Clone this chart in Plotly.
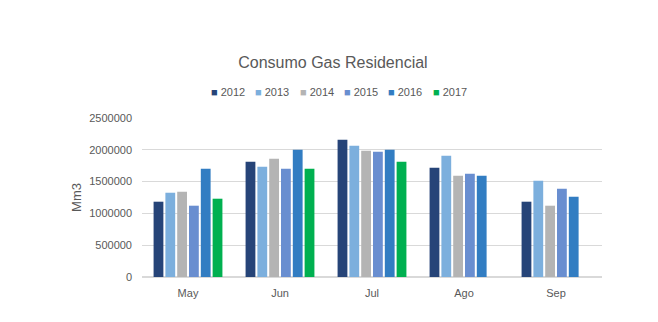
import plotly.graph_objects as go

months = ["May", "Jun", "Jul", "Ago", "Sep"]
years = ["2012", "2013", "2014", "2015", "2016", "2017"]
v2012 = [1184000, 1813000, 2159000, 1718000, 1184000]
v2013 = [1325000, 1734000, 2065000, 1907000, 1514000]
v2014 = [1341000, 1860000, 1986000, 1593000, 1121000]
v2015 = [1121000, 1703000, 1970000, 1624000, 1388000]
v2016 = [1703000, 2000000, 2000000, 1593000, 1262000]
v2017 = [1231000, 1703000, 1813000, None, None]
colors = ["#264478", "#7CAFDD", "#B4B4B4", "#698ED0", "#327DC2", "#00B050"]

series = [v2012, v2013, v2014, v2015, v2016, v2017]

W, H = 658, 322
ML, MR, MT, MB = 142, 56, 118, 45
PW, PH = W - ML - MR, H - MT - MB

fig = go.Figure()
for name, vals, c in zip(years, series, colors):
    fig.add_trace(go.Bar(name=name, x=months, y=vals, marker_color=c,
                         marker_line_width=0, showlegend=False))

# compact Excel-style legend row
legend_anns = []
for i, (name, c) in enumerate(zip(years, colors)):
    px = 209 + 44.3 * i
    legend_anns.append(dict(
        text=f"<span style='color:{c}'>■</span> {name}",
        xref="paper", yref="paper", x=(px - ML) / PW, y=(H - MB - 92) / PH,
        xanchor="left", yanchor="middle", showarrow=False,
        font=dict(size=11, color="#595959")))

fig.update_layout(
    width=W, height=H,
    margin=dict(l=ML, r=MR, t=MT, b=MB),
    paper_bgcolor="white", plot_bgcolor="white",
    font=dict(family="Liberation Sans, Arial, sans-serif", color="#595959", size=11),
    barmode="group", bargap=0.23, bargroupgap=0.17,
    title=dict(text="Consumo Gas Residencial", x=0.506, xanchor="center",
               y=1 - 62/322, yanchor="middle", font=dict(size=16, color="#595959")),
    annotations=legend_anns,
    xaxis=dict(showgrid=False, showline=True, linecolor="#D9D9D9", linewidth=1,
               ticks="", tickfont=dict(size=11), ticklabelstandoff=6),
    yaxis=dict(range=[0, 2500000], dtick=500000, tickformat="d", showgrid=True,
               gridcolor="#D9D9D9", zeroline=True, zerolinecolor="#D9D9D9",
               showline=False, ticklabelstandoff=9,
               title=dict(text="Mm3", font=dict(size=13, color="#595959"), standoff=4)),
)

fig.write_html("out.html")
